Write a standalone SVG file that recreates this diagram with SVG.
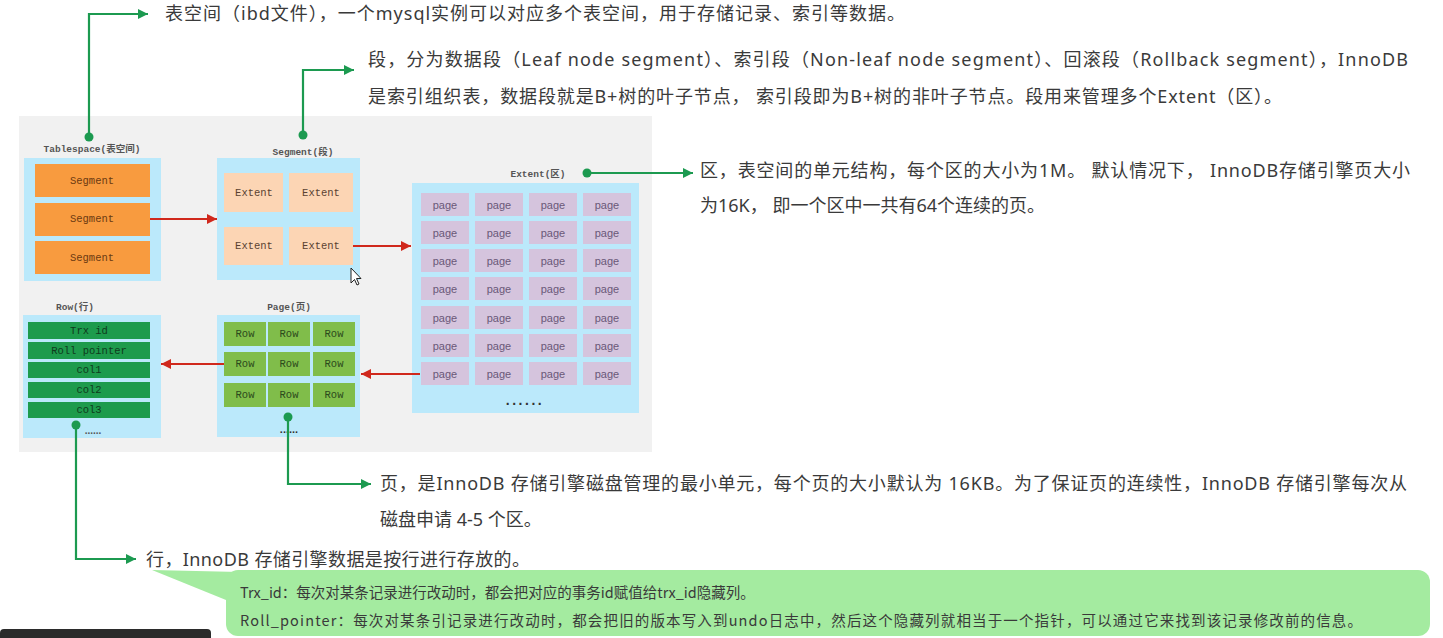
<svg xmlns="http://www.w3.org/2000/svg" width="1443" height="638" viewBox="0 0 1443 638">
<defs>
<style>
.desc{font-family:"Noto Sans","Noto Sans CJK SC",sans-serif;font-size:18px;fill:#3a3a3a;}
.call{font-family:"Noto Sans CJK SC","Noto Sans",sans-serif;font-size:14.5px;fill:#3a3a3a;}
.lbl{font-family:"Liberation Mono","Noto Sans CJK SC",monospace;font-size:9.5px;font-weight:bold;fill:#555;text-anchor:middle;}
.cell{font-family:"Liberation Mono","Noto Sans CJK SC",monospace;font-size:10.5px;text-anchor:middle;dominant-baseline:central;}
.blue{fill:#bbe9fb;}
.seg{fill:#f89b3f;}
.ext{fill:#fcd5b4;}
.pg{fill:#d5c4dd;}
.row{fill:#80bd4a;}
.fld{fill:#1d9b4c;}
.gline{fill:none;stroke:#1c9a50;stroke-width:2.2;}
.rline{fill:none;stroke:#d0281c;stroke-width:2.2;}
.dot{fill:#1c9a50;}
</style>
<marker id="ga" markerUnits="userSpaceOnUse" markerWidth="12" markerHeight="10" refX="10" refY="5" orient="auto"><path d="M0,0 L10,5 L0,10 z" fill="#1c9a50"/></marker>
<marker id="ra" markerUnits="userSpaceOnUse" markerWidth="12" markerHeight="10" refX="10" refY="5" orient="auto"><path d="M0,0 L10,5 L0,10 z" fill="#d0281c"/></marker>
</defs>
<rect width="1443" height="638" fill="#ffffff"/>
<rect x="19" y="116" width="633" height="336" fill="#f1f1f1"/>

<g id="tablespace">
<text class="lbl" x="92" y="152">Tablespace(表空间)</text>
<rect class="blue" x="24" y="158" width="137" height="123"/>
<rect class="seg" x="35" y="164" width="115" height="33"/>
<rect class="seg" x="35" y="203" width="115" height="33"/>
<rect class="seg" x="35" y="241" width="115" height="33"/>
<text class="cell" x="92" y="181" fill="#6b3a12" font-size="9.5">Segment</text>
<text class="cell" x="92" y="219" fill="#6b3a12" font-size="8.6">Segment</text>
<text class="cell" x="92" y="258" fill="#6b3a12" font-size="9.5">Segment</text>
</g>

<g id="segment">
<text class="lbl" x="303" y="155">Segment(段)</text>
<rect class="blue" x="217" y="158" width="143" height="122"/>
<rect class="ext" x="224" y="173" width="59" height="39"/>
<rect class="ext" x="289" y="173" width="64" height="39"/>
<rect class="ext" x="224" y="227" width="59" height="38"/>
<rect class="ext" x="289" y="227" width="64" height="38"/>
<text class="cell" x="254" y="193" fill="#5a4232">Extent</text>
<text class="cell" x="321" y="193" fill="#5a4232">Extent</text>
<text class="cell" x="254" y="246" fill="#5a4232">Extent</text>
<text class="cell" x="321" y="246" fill="#5a4232">Extent</text>
</g>

<g id="extent">
<text class="lbl" x="538" y="177">Extent(区)</text>
<rect class="blue" x="412" y="183" width="227" height="230"/>
<g class="pg">
<rect x="421" y="193" width="48" height="23"/><rect x="475" y="193" width="48" height="23"/><rect x="529" y="193" width="48" height="23"/><rect x="583" y="193" width="48" height="23"/>
<rect x="421" y="221" width="48" height="23"/><rect x="475" y="221" width="48" height="23"/><rect x="529" y="221" width="48" height="23"/><rect x="583" y="221" width="48" height="23"/>
<rect x="421" y="249" width="48" height="23"/><rect x="475" y="249" width="48" height="23"/><rect x="529" y="249" width="48" height="23"/><rect x="583" y="249" width="48" height="23"/>
<rect x="421" y="277" width="48" height="23"/><rect x="475" y="277" width="48" height="23"/><rect x="529" y="277" width="48" height="23"/><rect x="583" y="277" width="48" height="23"/>
<rect x="421" y="306" width="48" height="23"/><rect x="475" y="306" width="48" height="23"/><rect x="529" y="306" width="48" height="23"/><rect x="583" y="306" width="48" height="23"/>
<rect x="421" y="334" width="48" height="23"/><rect x="475" y="334" width="48" height="23"/><rect x="529" y="334" width="48" height="23"/><rect x="583" y="334" width="48" height="23"/>
<rect x="421" y="362" width="48" height="23"/><rect x="475" y="362" width="48" height="23"/><rect x="529" y="362" width="48" height="23"/><rect x="583" y="362" width="48" height="23"/>
</g>
<g class="cell" fill="#6a5878" style="font-family:'Liberation Sans','Noto Sans',sans-serif;font-size:11px">
<text x="445" y="205">page</text><text x="499" y="205">page</text><text x="553" y="205">page</text><text x="607" y="205">page</text>
<text x="445" y="233">page</text><text x="499" y="233">page</text><text x="553" y="233">page</text><text x="607" y="233">page</text>
<text x="445" y="261">page</text><text x="499" y="261">page</text><text x="553" y="261">page</text><text x="607" y="261">page</text>
<text x="445" y="289">page</text><text x="499" y="289">page</text><text x="553" y="289">page</text><text x="607" y="289">page</text>
<text x="445" y="318">page</text><text x="499" y="318">page</text><text x="553" y="318">page</text><text x="607" y="318">page</text>
<text x="445" y="346">page</text><text x="499" y="346">page</text><text x="553" y="346">page</text><text x="607" y="346">page</text>
<text x="445" y="374">page</text><text x="499" y="374">page</text><text x="553" y="374">page</text><text x="607" y="374">page</text>
</g>
<text x="525" y="405" font-family="Liberation Sans, sans-serif" font-size="14" font-weight="bold" fill="#333" text-anchor="middle" letter-spacing="2.5">......</text>
</g>

<g id="page">
<text class="lbl" x="289" y="310">Page(页)</text>
<rect class="blue" x="217" y="315" width="143" height="122"/>
<g class="row">
<rect x="224" y="322" width="42" height="24"/><rect x="268" y="322" width="42" height="24"/><rect x="313" y="322" width="42" height="24"/>
<rect x="224" y="352" width="42" height="24"/><rect x="268" y="352" width="42" height="24"/><rect x="313" y="352" width="42" height="24"/>
<rect x="224" y="383" width="42" height="24"/><rect x="268" y="383" width="42" height="24"/><rect x="313" y="383" width="42" height="24"/>
</g>
<g class="cell" fill="#2c4a1c">
<text x="245" y="334">Row</text><text x="289" y="334">Row</text><text x="334" y="334">Row</text>
<text x="245" y="364">Row</text><text x="289" y="364">Row</text><text x="334" y="364">Row</text>
<text x="245" y="395">Row</text><text x="289" y="395">Row</text><text x="334" y="395">Row</text>
</g>
<text x="289" y="433" font-family="Liberation Sans, sans-serif" font-size="11" font-weight="bold" fill="#333" text-anchor="middle">......</text>
</g>

<g id="row">
<text class="lbl" x="75" y="310">Row(行)</text>
<rect class="blue" x="23" y="315" width="138" height="123"/>
<rect class="fld" x="28" y="322" width="122" height="17"/>
<rect class="fld" x="28" y="342" width="122" height="17"/>
<rect class="fld" x="28" y="362" width="122" height="16"/>
<rect class="fld" x="28" y="382" width="122" height="16"/>
<rect class="fld" x="28" y="402" width="122" height="16"/>
<g class="cell" fill="#0f3a1c">
<text x="89" y="331">Trx id</text>
<text x="89" y="351">Roll pointer</text>
<text x="89" y="370">col1</text>
<text x="89" y="390">col2</text>
<text x="89" y="410">col3</text>
</g>
<text x="93" y="434" font-family="Liberation Sans, sans-serif" font-size="10" font-weight="bold" fill="#555" text-anchor="middle">......</text>
</g>

<g id="connectors">
<path class="rline" d="M150,219 H217" marker-end="url(#ra)"/>
<path class="rline" d="M353,246 H411" marker-end="url(#ra)"/>
<path class="rline" d="M420,374 H361" marker-end="url(#ra)"/>
<path class="rline" d="M224,364 H161" marker-end="url(#ra)"/>
<path class="gline" d="M89,137 V14 H148" marker-end="url(#ga)"/>
<path class="gline" d="M303,135 V70 H354" marker-end="url(#ga)"/>
<path class="gline" d="M587,173 H693" marker-end="url(#ga)"/>
<path class="gline" d="M288,417 V484 H371" marker-end="url(#ga)"/>
<path class="gline" d="M76,425 V559 H136" marker-end="url(#ga)"/>
<circle class="dot" cx="89" cy="137" r="4.5"/>
<circle class="dot" cx="303" cy="135" r="4.5"/>
<circle class="dot" cx="587" cy="173" r="4.5"/>
<circle class="dot" cx="288" cy="417" r="4.5"/>
<circle class="dot" cx="76" cy="425" r="4.5"/>
</g>

<g id="descriptions">
<text class="desc" x="165" y="20" textLength="740" lengthAdjust="spacing">表空间（ibd文件），一个mysql实例可以对应多个表空间，用于存储记录、索引等数据。</text>
<text class="desc" x="368" y="66" textLength="1040" lengthAdjust="spacing">段，分为数据段（Leaf node segment）、索引段（Non-leaf node segment）、回滚段（Rollback segment），InnoDB</text>
<text class="desc" x="368" y="103" textLength="914" lengthAdjust="spacing">是索引组织表，数据段就是B+树的叶子节点， 索引段即为B+树的非叶子节点。段用来管理多个Extent（区）。</text>
<text class="desc" x="700" y="177" textLength="710" lengthAdjust="spacing">区，表空间的单元结构，每个区的大小为1M。 默认情况下， InnoDB存储引擎页大小</text>
<text class="desc" x="700" y="212">为16K， 即一个区中一共有64个连续的页。</text>
<text class="desc" x="380" y="490" textLength="1027" lengthAdjust="spacing">页，是InnoDB 存储引擎磁盘管理的最小单元，每个页的大小默认为 16KB。为了保证页的连续性，InnoDB 存储引擎每次从</text>
<text class="desc" x="380" y="526">磁盘申请 4-5 个区。</text>
<text class="desc" x="146" y="566" textLength="384" lengthAdjust="spacing">行，InnoDB 存储引擎数据是按行进行存放的。</text>
</g>

<g id="callout">
<path d="M152,570 L240,572 L226,600 Z" fill="#a4eba0"/>
<rect x="226" y="570" width="1204" height="66" rx="12" fill="#a4eba0"/>
<text class="call" x="240" y="598">Trx_id：每次对某条记录进行改动时，都会把对应的事务id赋值给trx_id隐藏列。</text>
<text class="call" x="240" y="626" textLength="1122" lengthAdjust="spacing">Roll_pointer：每次对某条引记录进行改动时，都会把旧的版本写入到undo日志中，然后这个隐藏列就相当于一个指针，可以通过它来找到该记录修改前的信息。</text>
</g>

<path d="M351,268 L351,283 L354.5,279.5 L357,285 L359,284 L356.5,278.5 L361,278.5 Z" fill="#fff" stroke="#222" stroke-width="1"/>
<rect x="0" y="629" width="211" height="12" rx="4" fill="#2b2b2b"/>
</svg>
